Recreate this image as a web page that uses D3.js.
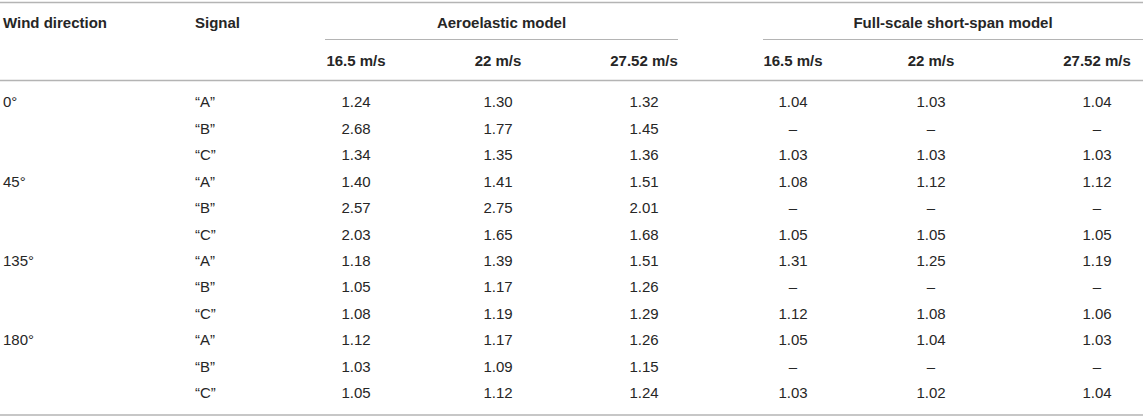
<!DOCTYPE html>
<html>
<head>
<meta charset="utf-8">
<script src="https://cdn.jsdelivr.net/npm/d3@7"></script>
<style>
  html, body { margin: 0; padding: 0; background: #fff; }
  svg text { font-family: "Liberation Sans", Arial, Helvetica, sans-serif; fill: #262626; }
</style>
</head>
<body>
<svg id="chart" width="1143" height="418"></svg>
<script>
// table values
var directions = ["0°", "45°", "135°", "180°"];
var signals = ["“A”", "“B”", "“C”"];
var speeds = ["16.5 m/s", "22 m/s", "27.52 m/s"];
var models = ["Aeroelastic model", "Full-scale short-span model"];
var aeroelastic = [
  [1.24, 1.30, 1.32], [2.68, 1.77, 1.45], [1.34, 1.35, 1.36],
  [1.40, 1.41, 1.51], [2.57, 2.75, 2.01], [2.03, 1.65, 1.68],
  [1.18, 1.39, 1.51], [1.05, 1.17, 1.26], [1.08, 1.19, 1.29],
  [1.12, 1.17, 1.26], [1.03, 1.09, 1.15], [1.05, 1.12, 1.24]
];
var fullScale = [
  [1.04, 1.03, 1.04], [null, null, null], [1.03, 1.03, 1.03],
  [1.08, 1.12, 1.12], [null, null, null], [1.05, 1.05, 1.05],
  [1.31, 1.25, 1.19], [null, null, null], [1.12, 1.08, 1.06],
  [1.05, 1.04, 1.03], [null, null, null], [1.03, 1.02, 1.04]
];

var W = 1143, fontSize = 15, lineColor = "#b4b4b4";
var svg = d3.select("#chart");
var fmt = d3.format(".2f");

var rowCount = directions.length * signals.length;
var y = d3.scaleLinear().domain([0, rowCount - 1]).range([102, 393]);
// column centres for the six value columns
var colKeys = d3.range(6);
var x = d3.scaleOrdinal().domain(colKeys).range([356, 498, 644, 793, 931, 1097]);
var groupSpan = [[325, 678], [763, W]];

// rules
var rules = [
  {x1: 0, x2: W, y: 2.5, w: 1.5},
  {x1: groupSpan[0][0], x2: groupSpan[0][1], y: 39.5, w: 1},
  {x1: groupSpan[1][0], x2: groupSpan[1][1], y: 39.5, w: 1},
  {x1: 0, x2: W, y: 80.5, w: 1.5},
  {x1: 0, x2: W, y: 415, w: 1.5}
];
svg.selectAll("line.rule").data(rules).enter().append("line")
  .attr("class", "rule")
  .attr("x1", function(d){ return d.x1; }).attr("x2", function(d){ return d.x2; })
  .attr("y1", function(d){ return d.y; }).attr("y2", function(d){ return d.y; })
  .style("stroke", lineColor).style("stroke-width", function(d){ return d.w; });

// header
var head = svg.append("g").attr("class", "header")
  .style("font-weight", "bold").style("font-size", fontSize + "px");

head.append("text").attr("x", 3).attr("y", 23).attr("dy", "0.35em").text("Wind direction");
head.append("text").attr("x", 195).attr("y", 23).attr("dy", "0.35em").text("Signal");

head.selectAll("text.model").data(models).enter().append("text")
  .attr("class", "model")
  .attr("x", function(d, i){ return (groupSpan[i][0] + groupSpan[i][1]) / 2; })
  .attr("y", 23).attr("dy", "0.35em")
  .attr("text-anchor", "middle")
  .text(function(d){ return d; });

head.selectAll("text.speed").data(colKeys).enter().append("text")
  .attr("class", "speed")
  .attr("x", function(d){ return x(d); })
  .attr("y", 61).attr("dy", "0.35em")
  .attr("text-anchor", "middle")
  .text(function(d){ return speeds[d % 3]; });

// body rows
var rows = d3.range(rowCount).map(function(i){
  return {
    i: i,
    dir: i % 3 === 0 ? directions[i / 3] : "",
    sig: signals[i % 3],
    vals: aeroelastic[i].concat(fullScale[i])
  };
});

var body = svg.append("g").attr("class", "body").style("font-size", fontSize + "px");
var row = body.selectAll("g.row").data(rows).enter().append("g")
  .attr("class", "row")
  .attr("transform", function(d){ return "translate(0," + y(d.i) + ")"; });

row.append("text").attr("x", 3).attr("dy", "0.35em").text(function(d){ return d.dir; });
row.append("text").attr("x", 195).attr("dy", "0.35em").text(function(d){ return d.sig; });

row.selectAll("text.val").data(function(d){ return d.vals; }).enter().append("text")
  .attr("class", "val")
  .attr("x", function(d, j){ return x(j); })
  .attr("dy", "0.35em")
  .attr("text-anchor", "middle")
  .text(function(d){ return d === null ? "–" : fmt(d); });
</script>
</body>
</html>
